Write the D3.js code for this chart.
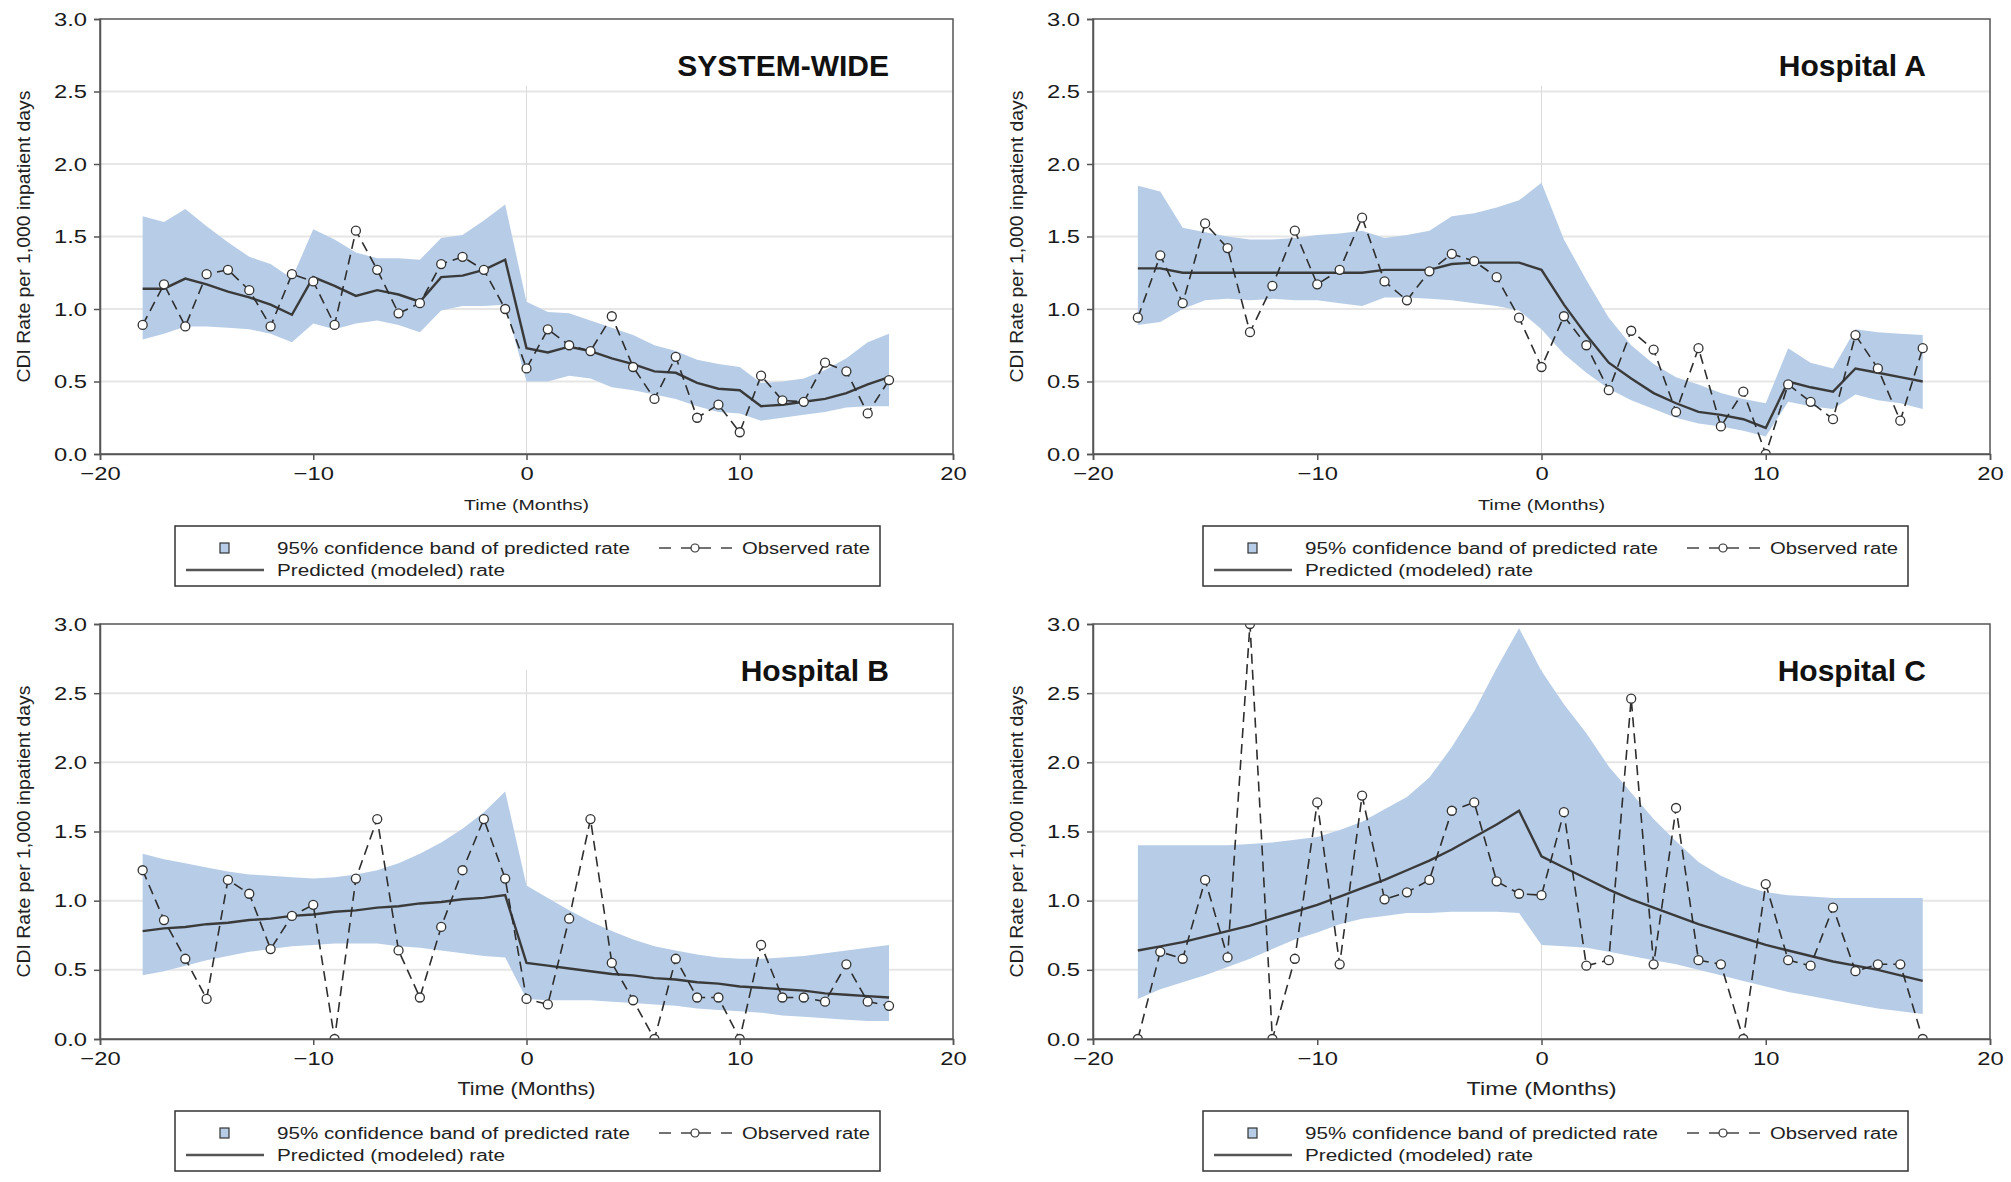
<!DOCTYPE html>
<html>
<head>
<meta charset="utf-8">
<script src="https://cdn.jsdelivr.net/npm/d3@7"></script>
<style>
  body { margin: 0; background: #fff; }
  svg { display: block; font-family: "Liberation Sans", Arial, sans-serif; }
</style>
</head>
<body>
<svg id="chart" width="2011" height="1182"></svg>
<script>
// months relative to the intervention (month 0)
const months = [-18,-17,-16,-15,-14,-13,-12,-11,-10,-9,-8,-7,-6,-5,-4,-3,-2,-1,
                0,1,2,3,4,5,6,7,8,9,10,11,12,13,14,15,16,17];

const panelTitles = ['SYSTEM-WIDE', 'Hospital A', 'Hospital B', 'Hospital C'];

// observed CDI rate per 1,000 inpatient days
const observedSystem = [0.89,1.17,0.88,1.24,1.27,1.13,0.88,1.24,1.19,0.89,1.54,1.27,0.97,1.04,1.31,1.36,1.27,1.00,
                        0.59,0.86,0.75,0.71,0.95,0.60,0.38,0.67,0.25,0.34,0.15,0.54,0.37,0.36,0.63,0.57,0.28,0.51];
const observedA = [0.94,1.37,1.04,1.59,1.42,0.84,1.16,1.54,1.17,1.27,1.63,1.19,1.06,1.26,1.38,1.33,1.22,0.94,
                   0.60,0.95,0.75,0.44,0.85,0.72,0.29,0.73,0.19,0.43,0.00,0.48,0.36,0.24,0.82,0.59,0.23,0.73];
const observedB = [1.22,0.86,0.58,0.29,1.15,1.05,0.65,0.89,0.97,0.00,1.16,1.59,0.64,0.30,0.81,1.22,1.59,1.16,
                   0.29,0.25,0.87,1.59,0.55,0.28,0.00,0.58,0.30,0.30,0.00,0.68,0.30,0.30,0.27,0.54,0.27,0.24];
const observedC = [0.00,0.63,0.58,1.15,0.59,3.00,0.00,0.58,1.71,0.54,1.76,1.01,1.06,1.15,1.65,1.71,1.14,1.05,
                   1.04,1.64,0.53,0.57,2.46,0.54,1.67,0.57,0.54,0.00,1.12,0.57,0.53,0.95,0.49,0.54,0.54,0.00];

// predicted (modeled) rate
const predictedSystem = [1.14,1.14,1.21,1.17,1.12,1.08,1.03,0.96,1.22,1.16,1.09,1.13,1.10,1.05,1.22,1.23,1.27,1.34,
                         0.73,0.70,0.74,0.71,0.66,0.62,0.57,0.56,0.49,0.45,0.44,0.33,0.34,0.36,0.38,0.42,0.48,0.53];
const predictedA = [1.28,1.28,1.25,1.25,1.25,1.25,1.25,1.25,1.25,1.25,1.25,1.27,1.27,1.27,1.31,1.32,1.32,1.32,
                    1.27,1.03,0.82,0.63,0.52,0.42,0.35,0.29,0.27,0.24,0.18,0.50,0.46,0.43,0.59,0.56,0.53,0.50];
const predictedB = [0.78,0.80,0.81,0.83,0.84,0.86,0.87,0.89,0.90,0.92,0.93,0.95,0.96,0.98,0.99,1.01,1.02,1.04,
                    0.55,0.53,0.51,0.49,0.47,0.46,0.44,0.43,0.41,0.40,0.38,0.37,0.36,0.35,0.33,0.32,0.31,0.30];
const predictedC = [0.64,0.67,0.70,0.74,0.78,0.82,0.87,0.92,0.97,1.03,1.09,1.15,1.22,1.29,1.37,1.46,1.55,1.65,
                    1.32,1.24,1.16,1.08,1.01,0.95,0.89,0.83,0.78,0.73,0.68,0.64,0.60,0.56,0.53,0.50,0.46,0.42];

// 95% confidence band of predicted rate
const upperSystem = [1.64,1.60,1.69,1.57,1.46,1.36,1.31,1.21,1.55,1.48,1.39,1.35,1.35,1.34,1.49,1.51,1.61,1.72,
                     1.05,0.98,0.97,0.92,0.87,0.82,0.75,0.71,0.65,0.62,0.60,0.49,0.50,0.52,0.58,0.66,0.77,0.83];
const lowerSystem = [0.79,0.83,0.88,0.88,0.87,0.86,0.83,0.77,0.90,0.86,0.90,0.92,0.89,0.84,0.99,1.02,1.02,1.03,
                     0.50,0.50,0.54,0.52,0.46,0.44,0.41,0.38,0.33,0.29,0.28,0.23,0.25,0.27,0.29,0.32,0.33,0.33];
const upperA = [1.85,1.81,1.56,1.53,1.50,1.48,1.48,1.49,1.51,1.52,1.54,1.49,1.51,1.54,1.64,1.66,1.70,1.75,
                1.87,1.48,1.20,0.94,0.75,0.62,0.53,0.48,0.42,0.38,0.35,0.73,0.63,0.59,0.86,0.84,0.83,0.82];
const lowerA = [0.89,0.91,1.00,1.06,1.07,1.06,1.07,1.06,1.06,1.04,1.02,1.08,1.08,1.07,1.06,1.04,1.02,0.99,
                0.86,0.69,0.56,0.45,0.37,0.31,0.25,0.21,0.19,0.16,0.12,0.36,0.33,0.31,0.41,0.37,0.35,0.31];
const upperB = [1.34,1.30,1.27,1.24,1.21,1.19,1.18,1.17,1.16,1.17,1.19,1.22,1.27,1.34,1.42,1.52,1.64,1.79,
                1.11,1.02,0.93,0.85,0.78,0.72,0.67,0.64,0.61,0.59,0.58,0.58,0.59,0.60,0.62,0.64,0.66,0.68];
const lowerB = [0.46,0.49,0.53,0.57,0.60,0.63,0.65,0.67,0.68,0.69,0.69,0.69,0.67,0.66,0.64,0.62,0.60,0.59,
                0.29,0.28,0.28,0.28,0.27,0.26,0.25,0.24,0.22,0.21,0.20,0.19,0.17,0.16,0.15,0.14,0.13,0.13];
const upperC = [1.40,1.40,1.40,1.40,1.40,1.41,1.42,1.44,1.46,1.51,1.57,1.66,1.75,1.89,2.11,2.37,2.68,2.97,
                2.66,2.42,2.21,1.97,1.78,1.59,1.43,1.28,1.18,1.11,1.06,1.04,1.03,1.02,1.02,1.02,1.02,1.02];
const lowerC = [0.29,0.36,0.41,0.46,0.52,0.58,0.65,0.72,0.77,0.83,0.87,0.89,0.91,0.91,0.92,0.92,0.92,0.91,
                0.68,0.67,0.66,0.63,0.60,0.57,0.54,0.50,0.46,0.42,0.38,0.34,0.31,0.28,0.25,0.22,0.20,0.18];

const yTicks = [0, 0.5, 1.0, 1.5, 2.0, 2.5, 3.0];
const xTicks = [-20, -10, 0, 10, 20];
const legendLabels = ['95% confidence band of predicted rate', 'Observed rate', 'Predicted (modeled) rate'];

// layout of the four panels (pixel boxes of the plot areas)
const panels = [
    {title: panelTitles[0], obs: observedSystem, pred: predictedSystem, up: upperSystem, lo: lowerSystem,
     left: 100, right: 953, top: 19, bottom: 454, refTop: 2.54, legendX: 175, xlabSize: 15, xlabLen: 125},
    {title: panelTitles[1], obs: observedA, pred: predictedA, up: upperA, lo: lowerA,
     left: 1093, right: 1990, top: 19, bottom: 454, refTop: 2.54, legendX: 1203, xlabSize: 15, xlabLen: 127},
    {title: panelTitles[2], obs: observedB, pred: predictedB, up: upperB, lo: lowerB,
     left: 100, right: 953, top: 624, bottom: 1039, refTop: 2.67, legendX: 175, xlabSize: 19, xlabLen: 138},
    {title: panelTitles[3], obs: observedC, pred: predictedC, up: upperC, lo: lowerC,
     left: 1093, right: 1990, top: 624, bottom: 1039, refTop: 2.67, legendX: 1203, xlabSize: 19, xlabLen: 150}
];

const bandColor = '#b7cde7';
const svg = d3.select('#chart');

// widen glyphs a bit, the original lettering is rather broad
function stretch(sel, factor) {
    sel.each(function() {
        const w = this.getComputedTextLength();
        d3.select(this).attr('textLength', w * factor).attr('lengthAdjust', 'spacingAndGlyphs');
    });
}

function drawPanel(p, i) {
    const x = d3.scaleLinear().domain([-20, 20]).range([p.left, p.right]);
    const y = d3.scaleLinear().domain([0, 3]).range([p.bottom, p.top]);
    const g = svg.append('g');

    // horizontal grid
    g.selectAll('.grid')
        .data(yTicks.filter(d => d > 0 && d < 3))
        .enter()
        .append('line')
        .attr('x1', p.left).attr('x2', p.right)
        .attr('y1', d => y(d)).attr('y2', d => y(d))
        .attr('stroke', '#e6e6e6')
        .attr('stroke-width', 2);

    // intervention reference line
    g.append('line')
        .attr('x1', x(0)).attr('x2', x(0))
        .attr('y1', y(p.refTop)).attr('y2', y(0))
        .attr('stroke', '#dcdcdc')
        .attr('stroke-width', 1);

    const clipId = 'clip' + i;
    svg.append('clipPath').attr('id', clipId)
        .append('rect')
        .attr('x', p.left).attr('y', p.top)
        .attr('width', p.right - p.left).attr('height', p.bottom - p.top);

    const plot = g.append('g').attr('clip-path', `url(#${clipId})`);

    const rows = months.map((m, k) => ({m: m, obs: p.obs[k], pred: p.pred[k], up: p.up[k], lo: p.lo[k]}));

    plot.append('path')
        .datum(rows)
        .attr('fill', bandColor)
        .attr('d', d3.area().x(d => x(d.m)).y0(d => y(d.lo)).y1(d => y(d.up)));

    plot.append('path')
        .datum(rows)
        .attr('fill', 'none')
        .attr('stroke', '#3a3a3a')
        .attr('stroke-width', 2.4)
        .attr('d', d3.line().x(d => x(d.m)).y(d => y(d.pred)));

    plot.append('path')
        .datum(rows)
        .attr('fill', 'none')
        .attr('stroke', '#2e2e2e')
        .attr('stroke-width', 1.6)
        .attr('stroke-dasharray', '10,6')
        .attr('d', d3.line().x(d => x(d.m)).y(d => y(d.obs)));

    plot.selectAll('.pt')
        .data(rows)
        .enter()
        .append('circle')
        .attr('cx', d => x(d.m))
        .attr('cy', d => y(d.obs))
        .attr('r', 4.5)
        .attr('fill', '#fff')
        .attr('stroke', '#333')
        .attr('stroke-width', 1.3);

    // frame
    g.append('rect')
        .attr('x', p.left).attr('y', p.top)
        .attr('width', p.right - p.left).attr('height', p.bottom - p.top)
        .attr('fill', 'none')
        .attr('stroke', '#555')
        .attr('stroke-width', 1.5);

    // axes
    const yAxis = g.append('g')
        .attr('transform', `translate(${p.left},0)`)
        .call(d3.axisLeft(y).tickValues(yTicks).tickFormat(d3.format('.1f')).tickSize(6).tickPadding(7));
    const xAxis = g.append('g')
        .attr('transform', `translate(0,${p.bottom})`)
        .call(d3.axisBottom(x).tickValues(xTicks).tickSize(6).tickPadding(7));

    [yAxis, xAxis].forEach(ax => {
        ax.select('.domain').attr('stroke', '#555').attr('stroke-width', 1.5);
        ax.selectAll('.tick line').attr('stroke', '#555').attr('stroke-width', 1.5);
        ax.selectAll('.tick text')
            .attr('fill', '#1a1a1a')
            .style('font-size', '19px')
            .style('font-family', '"Liberation Sans", Arial, sans-serif');
        stretch(ax.selectAll('.tick text'), 1.25);
    });

    // title
    g.append('text')
        .attr('x', p.right - 64)
        .attr('y', p.top + 57)
        .attr('text-anchor', 'end')
        .style('font-size', '30px')
        .style('font-weight', 'bold')
        .attr('fill', '#111')
        .text(p.title);

    // y label
    const cy = (p.top + p.bottom) / 2;
    g.append('text')
        .attr('transform', `translate(${p.left - 70},${cy}) rotate(-90)`)
        .attr('text-anchor', 'middle')
        .style('font-size', '18px')
        .attr('fill', '#222')
        .attr('textLength', 292)
        .attr('lengthAdjust', 'spacingAndGlyphs')
        .text('CDI Rate per 1,000 inpatient days');

    // x label
    g.append('text')
        .attr('x', (p.left + p.right) / 2)
        .attr('y', p.bottom + 56)
        .attr('text-anchor', 'middle')
        .style('font-size', p.xlabSize + 'px')
        .attr('fill', '#222')
        .attr('textLength', p.xlabLen)
        .attr('lengthAdjust', 'spacingAndGlyphs')
        .text('Time (Months)');

    drawLegend(p.legendX, p.bottom + 72);
}

function drawLegend(lx, ly) {
    const lg = svg.append('g').attr('transform', `translate(${lx},${ly})`);

    lg.append('rect')
        .attr('width', 705).attr('height', 60)
        .attr('fill', '#fff')
        .attr('stroke', '#333')
        .attr('stroke-width', 1.5);

    // band swatch
    lg.append('rect')
        .attr('x', 45).attr('y', 17)
        .attr('width', 9).attr('height', 10)
        .attr('fill', bandColor)
        .attr('stroke', '#333')
        .attr('stroke-width', 1.2);

    const texts = [
        {t: legendLabels[0], x: 102, y: 28, len: 353},
        {t: legendLabels[1], x: 567, y: 28, len: 128},
        {t: legendLabels[2], x: 102, y: 50, len: 228}
    ];
    lg.selectAll('.lt')
        .data(texts)
        .enter()
        .append('text')
        .attr('x', d => d.x)
        .attr('y', d => d.y)
        .style('font-size', '16px')
        .attr('fill', '#222')
        .attr('textLength', d => d.len)
        .attr('lengthAdjust', 'spacingAndGlyphs')
        .text(d => d.t);

    // observed sample: dash, circle, dash
    lg.append('line')
        .attr('x1', 484).attr('x2', 557)
        .attr('y1', 22).attr('y2', 22)
        .attr('stroke', '#444')
        .attr('stroke-width', 1.5)
        .attr('stroke-dasharray', '12,10,30,10,12');
    lg.append('circle')
        .attr('cx', 520).attr('cy', 22).attr('r', 4)
        .attr('fill', '#fff')
        .attr('stroke', '#333')
        .attr('stroke-width', 1.2);

    // predicted sample
    lg.append('line')
        .attr('x1', 11).attr('x2', 89)
        .attr('y1', 44).attr('y2', 44)
        .attr('stroke', '#555')
        .attr('stroke-width', 2.4);
}

panels.forEach(drawPanel);
</script>
</body>
</html>
